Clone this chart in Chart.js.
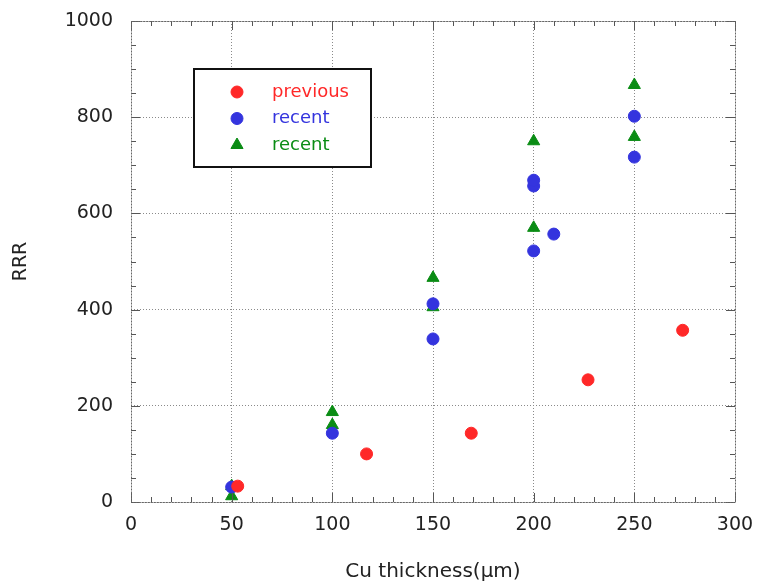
<!DOCTYPE html>
<html>
<head>
<meta charset="utf-8">
<script src="https://cdn.jsdelivr.net/npm/chart.js@4/dist/chart.umd.min.js"></script>
<style>
  html, body { margin: 0; padding: 0; background: #fff; }
  #wrap { width: 760px; height: 587px; }
</style>
</head>
<body>
<div id="wrap"><canvas id="c" width="760" height="587"></canvas></div>
<script>
// ── Data ──────────────────────────────────────────────────────────────────────
const previousX = [53, 117, 169, 227, 274];
const previousY = [33, 100, 143, 254, 357];

const recentCircX = [50, 100, 150, 150, 200, 200, 200, 210, 250, 250];
const recentCircY = [31, 143, 339, 412, 522, 657, 669, 557, 717, 802];

const recentTriX = [50, 50, 100, 100, 150, 150, 200, 200, 250, 250];
const recentTriY = [33, 12, 187, 160, 466, 405, 750, 570, 867, 759];

const xTicks = [0, 50, 100, 150, 200, 250, 300];
const yTicks = [0, 200, 400, 600, 800, 1000];

const RED = 'rgb(255,40,40)';
const BLUE = 'rgb(52,52,222)';
const GREEN = 'rgb(10,140,20)';

const pts = (xs, ys) => xs.map((x, i) => ({ x: x, y: ys[i] }));
const FONT = '"DejaVu Sans", sans-serif';

// ── Minor ticks + frame ───────────────────────────────────────────────────────
const minorTicks = {
    id: 'minorTicks',
    afterDatasetsDraw(chart) {
        const { ctx, chartArea: a, scales: { x, y } } = chart;
        ctx.save();
        ctx.strokeStyle = '#555';
        ctx.lineWidth = 1;
        ctx.beginPath();
        for (let v = 0; v <= 300; v += 10) {
            const px = Math.round(x.getPixelForValue(v)) + 0.5;
            const len = v % 50 === 0 ? 9 : 5;
            ctx.moveTo(px, a.bottom); ctx.lineTo(px, a.bottom - len);
            ctx.moveTo(px, a.top); ctx.lineTo(px, a.top + len);
        }
        for (let v = 0; v <= 1000; v += 50) {
            const py = Math.round(y.getPixelForValue(v)) + 0.5;
            const len = v % 200 === 0 ? 9 : 5;
            ctx.moveTo(a.left, py); ctx.lineTo(a.left + len, py);
            ctx.moveTo(a.right, py); ctx.lineTo(a.right - len, py);
        }
        ctx.stroke();
        ctx.setLineDash([2, 1]);
        ctx.strokeStyle = '#666';
        ctx.strokeRect(a.left + 0.5, a.top + 0.5, a.right - a.left, a.bottom - a.top);
        ctx.restore();
    }
};

// ── Legend box inside the plot ────────────────────────────────────────────────
const boxLegend = {
    id: 'boxLegend',
    afterDraw(chart) {
        const { ctx, chartArea: a } = chart;
        const bx = a.left + 63, by = a.top + 48, bw = 177, bh = 98;
        ctx.save();
        ctx.fillStyle = '#fff';
        ctx.fillRect(bx, by, bw, bh);
        ctx.strokeStyle = '#111';
        ctx.lineWidth = 2;
        ctx.strokeRect(bx, by, bw, bh);
        ctx.font = '18px ' + FONT;
        ctx.textBaseline = 'middle';
        chart.data.datasets.forEach((ds, i) => {
            const ly = by + 23 + i * 26.5;
            ctx.fillStyle = ds.backgroundColor;
            ctx.strokeStyle = ds.backgroundColor;
            ctx.lineWidth = 1;
            Chart.helpers.drawPoint(ctx, {
                pointStyle: ds.pointStyle, radius: ds.pointRadius, rotation: 0, borderWidth: 1
            }, bx + 43, ly);
            ctx.fillStyle = ds.backgroundColor;
            ctx.fillText(ds.label, bx + 78, ly);
        });
        ctx.restore();
    }
};

new Chart(document.getElementById('c'), {
    type: 'scatter',
    data: {
        datasets: [
            { label: 'previous', data: pts(previousX, previousY), pointStyle: 'circle',
              pointRadius: 6, backgroundColor: RED, borderColor: RED, borderWidth: 1 },
            { label: 'recent', data: pts(recentCircX, recentCircY), pointStyle: 'circle',
              pointRadius: 6, backgroundColor: BLUE, borderColor: BLUE, borderWidth: 1 },
            { label: 'recent', data: pts(recentTriX, recentTriY), pointStyle: 'triangle',
              pointRadius: 7, backgroundColor: GREEN, borderColor: GREEN, borderWidth: 1 }
        ]
    },
    options: {
        responsive: false,
        animation: false,
        layout: { padding: { left: 0, right: 25, top: 21, bottom: 0 } },
        plugins: { legend: { display: false }, tooltip: { enabled: false } },
        scales: {
            x: {
                type: 'linear', min: 0, max: 300,
                afterBuildTicks: (s) => { s.ticks = xTicks.map(v => ({ value: v })); },
                afterFit: (s) => { s.height = 85; s.paddingLeft = 0; s.paddingRight = 0; },
                grid: { color: '#8a8a8a', lineWidth: 1, drawTicks: false },
                border: { display: false, dash: [1, 2] },
                ticks: { color: '#222', font: { family: FONT, size: 19 }, padding: 12,
                         callback: (v) => String(v) },
                title: { display: true, text: 'Cu thickness(μm)', color: '#222',
                         font: { family: FONT, size: 20 }, padding: { top: 0, bottom: 3 } }
            },
            y: {
                type: 'linear', min: 0, max: 1000,
                afterBuildTicks: (s) => { s.ticks = yTicks.map(v => ({ value: v })); },
                afterFit: (s) => { s.width = 131; s.paddingTop = 0; s.paddingBottom = 0; },
                grid: { color: '#8a8a8a', lineWidth: 1, drawTicks: false },
                border: { display: false, dash: [1, 2] },
                ticks: { color: '#222', font: { family: FONT, size: 19 }, padding: 18,
                         callback: (v) => String(v) },
                title: { display: true, text: 'RRR', color: '#222',
                         font: { family: FONT, size: 19 }, padding: { top: 10, bottom: 10 } }
            }
        }
    },
    plugins: [minorTicks, boxLegend]
});
</script>
</body>
</html>
